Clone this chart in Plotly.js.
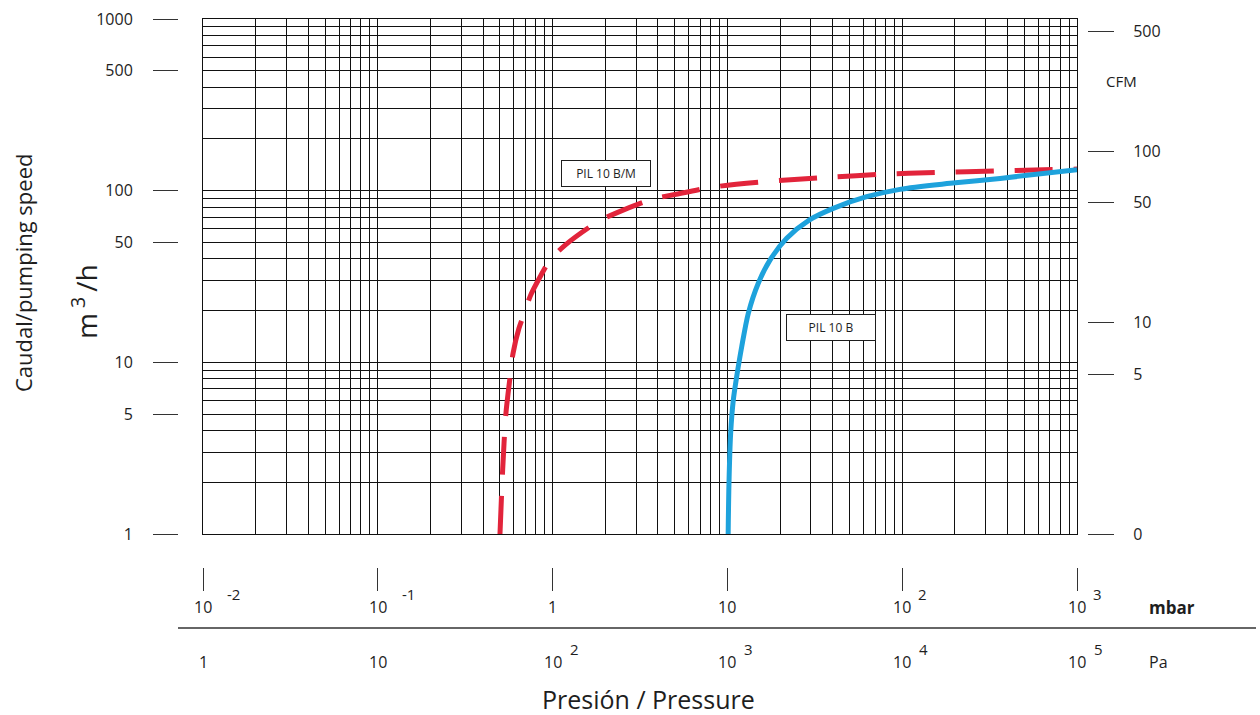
<!DOCTYPE html>
<html>
<head>
<meta charset="utf-8">
<script src="https://cdn.plot.ly/plotly-3.0.1.min.js"></script>
<style>html,body{margin:0;padding:0;background:#fff;}#chart{width:1260px;height:715px;}</style>
</head>
<body>
<div id="chart"></div>
<script>
// ---------------- DATA ----------------
// PIL 10 B/M (red dashed) : pressure in mbar, pumping speed in m3/h
const pilBMPressure = [0.50, 0.518, 0.541, 0.571, 0.594, 0.642, 0.695, 0.745, 0.847, 0.966, 1.18, 1.80, 2.34, 3.75, 5.0, 8.3, 18.2, 40, 75, 154, 340, 1000];
const pilBMSpeed    = [1.0, 2.36, 5.07, 8.2, 11.3, 15.8, 19.8, 24.3, 31.4, 39.4, 48.2, 65.6, 74.5, 89.4, 95.0, 105, 113.7, 120, 124.5, 127.5, 130.3, 133.6];
// PIL 10 B (blue solid)
const pilBPressure = [10.1, 10.21, 10.44, 10.81, 11.3, 12.07, 13.17, 15.02, 17.52, 21.84, 29.35, 40.35, 62.6, 97, 188, 363, 1000];
const pilBSpeed    = [1.0, 1.98, 3.88, 6.03, 8.25, 12.3, 19.3, 28.9, 39.4, 52.8, 67.4, 78.9, 92.2, 101.8, 110.3, 117.9, 132.5];

const curveNames = ['PIL 10 B/M', 'PIL 10 B'];

// axis ticks
const speedTicks = [1, 5, 10, 50, 100, 500, 1000];            // m3/h (left)
const cfmTicks = [5, 10, 50, 100, 500];                        // CFM (right)
const cfmFloorLabel = '0';                                     // label shown at bottom of CFM scale
const m3hToCfm = 0.588578;                                     // 1 m3/h in CFM
const mbarTicks = [0.01, 0.1, 1, 10, 100, 1000];
const mbarBase = ['10', '10', '1', '10', '10', '10'];
const mbarExp  = ['-2', '-1', '', '', '2', '3'];
const paTicks = [1, 10, 100, 1000, 10000, 100000];
const paBase = ['1', '10', '10', '10', '10', '10'];
const paExp  = ['', '', '2', '3', '4', '5'];
const paPerMbar = 100;

// ---------------- LAYOUT HELPERS ----------------
const W = 1260, H = 715;
const M = {l: 100, r: 0, t: 10, b: 0};
const PW = W - M.l - M.r, PH = H - M.t - M.b;
const px = v => (v - M.l) / PW;      // pixel x -> paper
const py = v => (H - M.b - v) / PH;  // pixel y -> paper

const plotL = 203, plotR = 1077, plotT = 19, plotB = 534;

function gridVals(lo, hi) {
  const out = [];
  for (let e = lo; e < hi; e++) for (let m = 1; m <= 9; m++) out.push(m * Math.pow(10, e));
  out.push(Math.pow(10, hi));
  return out;
}

const ink = '#1e1e1e';
const font = 'Open Sans, Noto Sans, sans-serif';

const traces = [
  {x: pilBMPressure, y: pilBMSpeed, type: 'scatter', mode: 'lines', name: curveNames[0],
   line: {color: '#e2243b', width: 5, dash: '38px,21px', shape: 'spline', smoothing: 0.8}, hoverinfo: 'skip'},
  {x: pilBPressure, y: pilBSpeed, type: 'scatter', mode: 'lines', name: curveNames[1],
   line: {color: '#1ea2dc', width: 5, shape: 'spline', smoothing: 0.8}, hoverinfo: 'skip'},
  // empty carriers so that the extra scale axes are built
  {x: [], y: [], type: 'scatter', mode: 'lines', xaxis: 'x2', yaxis: 'y', hoverinfo: 'skip'},
  {x: [], y: [], type: 'scatter', mode: 'lines', xaxis: 'x', yaxis: 'y2', hoverinfo: 'skip'},
  {x: [], y: [], type: 'scatter', mode: 'lines', xaxis: 'x', yaxis: 'y3', hoverinfo: 'skip'}
];

const annotations = [];
function ann(o) { annotations.push(Object.assign({showarrow: false, font: {family: font, size: 16, color: ink}}, o)); }

// mbar row labels
mbarTicks.forEach((v, i) => {
  ann({xref: 'x', yref: 'paper', x: Math.log10(v), y: py(607), text: mbarBase[i], xanchor: 'center', yanchor: 'middle'});
  if (mbarExp[i]) ann({xref: 'x', yref: 'paper', x: Math.log10(v), y: py(594), text: mbarExp[i],
    xanchor: 'left', yanchor: 'middle', xshift: mbarExp[i][0] === '-' ? 22 : 14, font: {family: font, size: 15, color: ink}});
});
// Pa row labels (placed on the mbar scale: 1 mbar = 100 Pa)
paTicks.forEach((v, i) => {
  const xm = Math.log10(v / paPerMbar);
  ann({xref: 'x', yref: 'paper', x: xm, y: py(662), text: paBase[i], xanchor: 'center', yanchor: 'middle'});
  if (paExp[i]) ann({xref: 'x', yref: 'paper', x: xm, y: py(649), text: paExp[i],
    xanchor: 'left', yanchor: 'middle', xshift: 15, font: {family: font, size: 15, color: ink}});
});
ann({xref: 'paper', yref: 'paper', x: px(1147), y: py(607), text: '<b>mbar</b>', xanchor: 'left', yanchor: 'middle', font: {family: font, size: 17, color: ink}});
ann({xref: 'paper', yref: 'paper', x: px(1147), y: py(662), text: 'Pa', xanchor: 'left', yanchor: 'middle'});
ann({xref: 'paper', yref: 'paper', x: px(648), y: py(699), text: 'Presión / Pressure', xanchor: 'center', yanchor: 'middle', font: {family: font, size: 25, color: ink}});
ann({xref: 'paper', yref: 'paper', x: px(23), y: py(273), text: 'Caudal/pumping speed', textangle: -90, xanchor: 'center', yanchor: 'middle', font: {family: font, size: 22, color: ink}});
ann({xref: 'paper', yref: 'paper', x: px(84), y: py(302), text: 'm<sup> 3 </sup>/h', textangle: -90, xanchor: 'center', yanchor: 'middle', font: {family: font, size: 28, color: ink}});
ann({xref: 'paper', yref: 'paper', x: px(1121), y: py(81), text: 'CFM', xanchor: 'center', yanchor: 'middle', font: {family: font, size: 15, color: ink}});
// curve labels (boxed)
ann({xref: 'x', yref: 'y', x: Math.log10(2.02), y: Math.log10(125.8), text: curveNames[0], xanchor: 'center', yanchor: 'middle',
  bgcolor: '#fff', bordercolor: ink, borderwidth: 1, borderpad: 3, width: 82, height: 19, font: {family: font, size: 12, color: ink}});
ann({xref: 'x', yref: 'y', x: Math.log10(39.2), y: Math.log10(15.9), text: curveNames[1], xanchor: 'center', yanchor: 'middle',
  bgcolor: '#fff', bordercolor: ink, borderwidth: 1, borderpad: 3, width: 82, height: 19, font: {family: font, size: 12, color: ink}});

const gridAxis = {
  type: 'log', showgrid: true, gridcolor: '#111', gridwidth: 1, showline: true, mirror: true,
  linecolor: '#111', linewidth: 1.2, ticks: '', showticklabels: false, zeroline: false, fixedrange: true
};
const tickInk = '#333';

const layout = {
  width: W, height: H, margin: M, paper_bgcolor: '#fff', plot_bgcolor: 'rgba(0,0,0,0)', showlegend: false,
  font: {family: font, color: ink},
  xaxis: Object.assign({}, gridAxis, {domain: [px(plotL), px(plotR)], range: [-2, 3], tickmode: 'array', tickvals: gridVals(-2, 3), anchor: 'y'}),
  yaxis: Object.assign({}, gridAxis, {domain: [py(plotB), py(plotT)], range: [0, 3], tickmode: 'array', tickvals: gridVals(0, 3), anchor: 'x'}),
  // mbar tick marks
  xaxis2: {type: 'log', overlaying: 'x', anchor: 'free', position: py(567), side: 'bottom', range: [-2, 3], autorange: false,
    tickmode: 'array', tickvals: mbarTicks, ticks: 'outside', ticklen: 23, tickwidth: 1, tickcolor: tickInk,
    showticklabels: false, showgrid: false, showline: false, zeroline: false, fixedrange: true},
  // left m3/h ticks
  yaxis2: {type: 'log', overlaying: 'y', anchor: 'free', position: px(178), side: 'left', range: [0, 3], autorange: false,
    tickmode: 'array', tickvals: speedTicks, ticktext: speedTicks.map(String), ticks: 'outside', ticklen: 25,
    tickwidth: 1, tickcolor: tickInk, ticklabelstandoff: 17, tickfont: {family: font, size: 16, color: ink},
    showgrid: false, showline: false, zeroline: false, fixedrange: true},
  // right CFM ticks
  yaxis3: {type: 'log', overlaying: 'y', anchor: 'free', position: px(1087), side: 'right', autorange: false,
    range: [Math.log10(m3hToCfm), 3 + Math.log10(m3hToCfm)],
    tickmode: 'array', tickvals: [m3hToCfm].concat(cfmTicks), ticktext: [cfmFloorLabel].concat(cfmTicks.map(String)),
    ticks: 'outside', ticklen: 26, tickwidth: 1, tickcolor: tickInk, ticklabelstandoff: 16,
    tickfont: {family: font, size: 16, color: ink},
    showgrid: false, showline: false, zeroline: false, fixedrange: true},
  shapes: [
    {type: 'line', xref: 'paper', yref: 'paper', x0: px(178), x1: px(1256), y0: py(628), y1: py(628),
     line: {color: '#333', width: 1.3}}
  ],
  annotations: annotations
};

Plotly.newPlot('chart', traces, layout, {staticPlot: true, displayModeBar: false});
</script>
</body>
</html>
